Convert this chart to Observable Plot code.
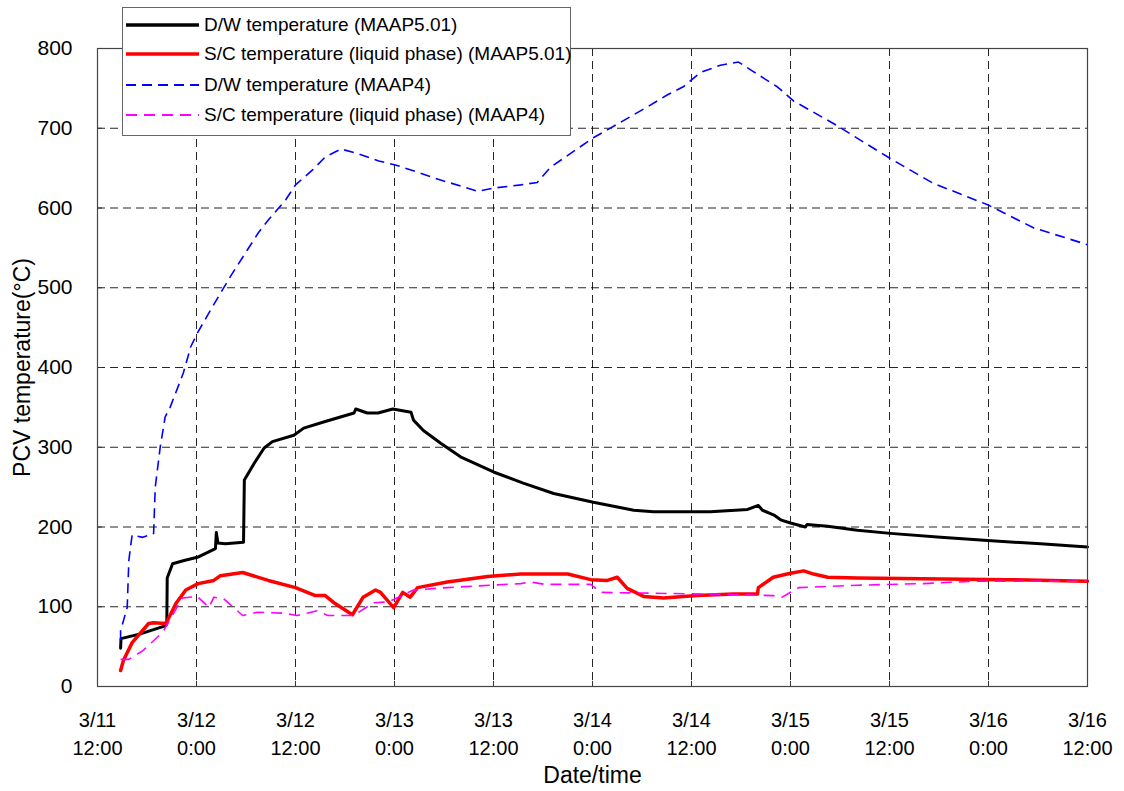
<!DOCTYPE html>
<html>
<head>
<meta charset="utf-8">
<script src="https://cdn.jsdelivr.net/npm/d3@7"></script>
<script src="https://cdn.jsdelivr.net/npm/@observablehq/plot@0.6"></script>
<style>
  html, body { margin: 0; padding: 0; background: #fff; }
  #wrap { position: relative; width: 1124px; height: 791px; font-family: "Liberation Sans", Arial, sans-serif; }
  #legend { position: absolute; left: 122px; top: 7px; width: 449px; height: 129px; box-sizing: border-box;
            border: 1px solid #666; background: #fff; z-index: 2; }
  .row { position: absolute; left: 0; height: 26px; display: flex; align-items: center; }
  .row svg { display: block; margin-left: 3px; }
  .row span { margin-left: 5px; font-size: 19px; color: #000; white-space: nowrap; }
</style>
</head>
<body>
<div id="wrap"><div id="legend"></div></div>
<script>
// Time in hours after 3/11 12:00, temperature in °C
const dwMaap501 = [[2.8,48],[2.85,60],[5.2,66],[8.2,76],[8.4,78],[8.45,136],[9.1,154],[10.5,158],[12.1,162],[14.3,173],[14.4,193],[14.6,180],[15.5,179],[17.7,181],[17.8,259],[19.0,280],[20.2,299],[21.2,307],[23.8,315],[25,324],[27.5,332],[31.1,343],[31.3,348],[32.7,343],[34,343],[35.8,348],[38,344],[38.3,334],[39.5,321],[41.6,305],[44,288],[48,269],[51.6,255],[55.3,242],[60.1,231],[65,221],[67.4,219],[74.3,219],[78.8,222],[80.1,227],[80.6,221],[82,215],[82.8,209],[84,205],[85.8,200],[86,203],[88.5,201],[92.1,196],[96.1,192],[102.2,187],[107.9,183],[114.3,179],[120,175]];
const scMaap501 = [[2.8,20],[3.15,33],[4.2,55],[6.2,79],[6.8,80],[8.2,79],[8.5,83],[9.5,104],[10.7,121],[12.2,129],[14.1,133],[14.9,139],[17.6,143],[20.7,133],[24,124],[26.4,114],[27.6,114],[28.8,104],[30.9,90],[32.2,112],[33.7,121],[34.3,118],[35.9,99],[37,118],[37.9,112],[38.8,124],[42.4,131],[47.3,138],[51.3,141],[57,141],[59.8,134],[61.8,133],[63,137],[64.2,123],[66.2,113],[68.6,111],[72.7,114],[77.1,116],[80,116],[80.1,124],[81.9,137],[84,142],[85.6,145],[86.8,141],[88.5,137],[92.1,136],[110.3,134],[120,132]];
const dwMaap4 = [[2.8,58],[2.8,70],[3.6,99],[3.8,158],[4.0,175],[4.2,190],[5.5,187],[6.8,192],[7.0,250],[7.6,300],[8.2,338],[8.8,350],[10.4,393],[11.3,426],[12.1,443],[13.7,472],[14.9,493],[16.1,514],[18.2,548],[19.5,569],[20.7,585],[22.8,610],[24,629],[26.1,648],[27.6,664],[29.5,674],[31.3,669],[34.1,659],[36.1,654],[38.5,646],[41.3,636],[44.2,627],[46.1,621],[48,625],[51.3,629],[53.3,632],[54.9,651],[57.7,671],[60.1,688],[61.8,698],[65,717],[66.7,727],[69.1,742],[71,752],[73.1,770],[75.5,779],[77.7,783],[79.5,771],[82.4,752],[84.4,734],[89.2,706],[96.1,662],[101.3,631],[107.9,604],[113.5,575],[120,554]];
const scMaap4 = [[2.8,34],[3.8,34],[5.5,45],[7.9,68],[8.5,79],[10.3,111],[12.1,113],[13.5,99],[14.1,112],[15.3,110],[17.6,89],[19.4,93],[22.5,92],[24.2,89],[26.7,95],[27.9,89],[31,89],[33.5,105],[35.2,106],[35.9,109],[38.3,121],[42.4,124],[47.6,127],[51.3,129],[52.5,131],[54.3,128],[59.8,128],[61,118],[73.1,116],[77.9,115],[81.9,114],[83,112],[83.8,117],[85,124],[92.1,127],[100.1,129],[106.2,132],[120,132]];

const xTicks = [0,12,24,36,48,60,72,84,96,108,120];
const xTickLabels = ["3/11\n12:00","3/12\n0:00","3/12\n12:00","3/13\n0:00","3/13\n12:00","3/14\n0:00","3/14\n12:00","3/15\n0:00","3/15\n12:00","3/16\n0:00","3/16\n12:00"];
const yTicks = [0,100,200,300,400,500,600,700,800];

const seriesNames = ["D/W temperature (MAAP5.01)","S/C temperature (liquid phase) (MAAP5.01)","D/W temperature (MAAP4)","S/C temperature (liquid phase) (MAAP4)"];
const seriesColors = ["#000000","#ff0000","#0000ff","#ff00ff"];
const seriesWidths = [3,3.5,1.6,1.6];
const seriesDash = [null,null,"10,6","11,7"];
const seriesData = [dwMaap501, scMaap501, dwMaap4, scMaap4];

const font = '"Liberation Sans", Arial, sans-serif';

const chart = Plot.plot({
  width: 1124,
  height: 791,
  marginLeft: 97,
  marginRight: 37,
  marginTop: 48,
  marginBottom: 105,
  style: {fontFamily: font, fontSize: "20px", color: "#000", background: "#fff", overflow: "visible"},
  x: {domain: [0,120], ticks: xTicks},
  y: {domain: [0,800], ticks: yTicks},
  marks: [
    Plot.gridX(xTicks, {stroke: "#000", strokeOpacity: 0.85, strokeDasharray: "8,5"}),
    Plot.gridY(yTicks, {stroke: "#000", strokeOpacity: 0.85, strokeDasharray: "8,5"}),
    Plot.ruleY(yTicks, {x1: 0, x2: 0.6, stroke: "#333"}),
    Plot.ruleX(xTicks, {y1: 0, y2: 6.5, stroke: "#333"}),
    Plot.axisY({ticks: yTicks, tickSize: 0, tickPadding: 25, label: null, fontSize: 21}),
    Plot.axisX({ticks: xTicks, tickSize: 0, tickPadding: 21, label: null, lineHeight: 1.4, fontSize: 20,
                tickFormat: d => xTickLabels[xTicks.indexOf(d)]}),
    Plot.text(["PCV temperature(°C)"], {frameAnchor: "left", textAnchor: "middle", dx: -75, rotate: -90, fontSize: 23, text: d => d}),
    Plot.text(["Date/time"], {frameAnchor: "bottom", textAnchor: "middle", dy: 96, fontSize: 23, text: d => d}),
    ...seriesData.map((data, i) => Plot.line(data, {
      x: d => d[0], y: d => d[1],
      stroke: seriesColors[i], strokeWidth: seriesWidths[i],
      strokeDasharray: seriesDash[i], strokeLinejoin: "round", strokeLinecap: seriesDash[i] ? "butt" : "round"
    })),
    Plot.frame({stroke: "#444", strokeWidth: 1.2})
  ]
});
document.getElementById("wrap").prepend(chart);

const legend = document.getElementById("legend");
const rowTops = [4, 33, 64, 94];
seriesNames.forEach((name, i) => {
  const row = document.createElement("div");
  row.className = "row";
  row.style.top = rowTops[i] + "px";
  row.innerHTML = `<svg width="73" height="10"><line x1="0" x2="73" y1="5" y2="5" stroke="${seriesColors[i]}" stroke-width="${i < 2 ? 3.5 : 2}" ${seriesDash[i] ? `stroke-dasharray="${seriesDash[i]}"` : ""}/></svg><span>${name}</span>`;
  legend.appendChild(row);
});
</script>
</body>
</html>
